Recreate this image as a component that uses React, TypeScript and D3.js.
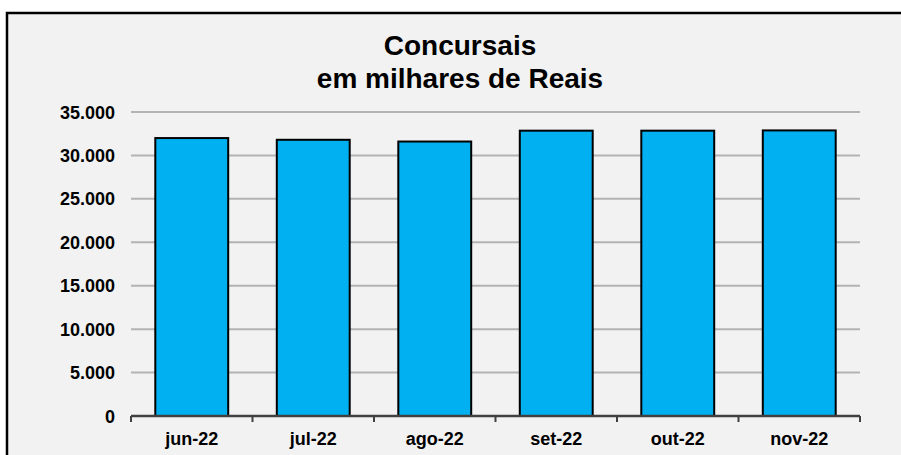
import * as d3 from "d3";

const months = ["jun-22", "jul-22", "ago-22", "set-22", "out-22", "nov-22"];
const values = [32000, 31800, 31600, 32850, 32850, 32880];
const yTicks = [0, 5000, 10000, 15000, 20000, 25000, 30000, 35000];
const titleLines = ["Concursais", "em milhares de Reais"];

const width = 901;
const height = 455;
const plot = { left: 131, right: 860, top: 112, bottom: 416 };
const font = "'Liberation Sans', Arial, sans-serif";

const fmt = (v: number) => d3.format(",")(v).replace(/,/g, ".");

export default function App() {
  const x = d3.scaleBand<string>()
    .domain(months)
    .range([plot.left, plot.right])
    .paddingInner(0.4)
    .paddingOuter(0.2);
  const y = d3.scaleLinear().domain([0, 35000]).range([plot.bottom, plot.top]);
  const step = x.step();
  const edges = d3.range(months.length + 1).map((i) => plot.left + i * step);

  return (
    <svg
      width={width}
      height={height}
      style={{ position: "absolute", left: 0, top: 0, background: "#fff" }}
    >
      <rect x={7} y={13} width={1000} height={1000} fill="#f2f2f2" stroke="#000" strokeWidth={2.5} />
      <g fontFamily={font} fontWeight="bold" fill="#000" textAnchor="middle">
        {titleLines.map((t, i) => (
          <text key={t} x={460} y={55 + i * 33} fontSize={28}>{t}</text>
        ))}
      </g>
      {yTicks.filter((t) => t > 0).map((t) => (
        <line key={t} x1={plot.left} x2={plot.right} y1={y(t)} y2={y(t)} stroke="#b3b3b3" strokeWidth={2} />
      ))}
      {yTicks.map((t) => (
        <text key={t} x={115} y={y(t) + 6.5} textAnchor="end" fontFamily={font} fontWeight="bold" fontSize={18}>
          {fmt(t)}
        </text>
      ))}
      {months.map((m, i) => (
        <rect
          key={m}
          x={x(m)}
          y={y(values[i])}
          width={x.bandwidth()}
          height={y(0) - y(values[i])}
          fill="#00b0f0"
          stroke="#000"
          strokeWidth={2}
        />
      ))}
      <line x1={plot.left} x2={plot.right} y1={plot.bottom} y2={plot.bottom} stroke="#404040" strokeWidth={2.5} />
      {edges.map((e) => (
        <line key={e} x1={e} x2={e} y1={plot.bottom} y2={plot.bottom + 6} stroke="#404040" strokeWidth={2} />
      ))}
      {months.map((m) => (
        <text key={m} x={(x(m) ?? 0) + x.bandwidth() / 2} y={445} textAnchor="middle" fontFamily={font} fontWeight="bold" fontSize={18}>
          {m}
        </text>
      ))}
    </svg>
  );
}
